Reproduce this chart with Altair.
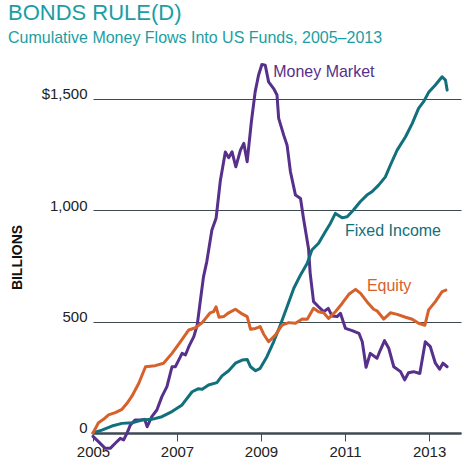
import altair as alt
import pandas as pd

# ---------------- data ----------------
eq_year = [2005.0, 2005.13, 2005.25, 2005.37, 2005.53, 2005.69, 2005.81, 2005.93, 2006.09, 2006.25,
           2006.48, 2006.68, 2006.88, 2007.08, 2007.28, 2007.44, 2007.6, 2007.79, 2007.87, 2007.93,
           2008.0, 2008.11, 2008.23, 2008.39, 2008.55, 2008.67, 2008.75, 2008.87, 2008.98, 2009.06,
           2009.18, 2009.34, 2009.5, 2009.66, 2009.82, 2009.98, 2010.1, 2010.25, 2010.37, 2010.49,
           2010.61, 2010.77, 2010.93, 2011.09, 2011.25, 2011.37, 2011.52, 2011.68, 2011.76, 2011.92,
           2012.08, 2012.24, 2012.44, 2012.6, 2012.75, 2012.9, 2012.99, 2013.15, 2013.31, 2013.4]
eq_val = [0, 46, 61, 81, 91, 106, 133, 166, 223, 297,
          302, 313, 357, 409, 462, 472, 495, 539, 544, 566,
          519, 522, 539, 555, 534, 522, 465, 469, 477, 444,
          409, 439, 484, 495, 492, 511, 510, 559, 544, 539,
          514, 544, 581, 622, 644, 626, 589, 555, 548, 511,
          539, 532, 519, 510, 492, 483, 552, 589, 634, 641]

fi_year = [2005.0, 2005.21, 2005.45, 2005.69, 2005.93, 2006.17, 2006.4, 2006.64, 2006.88, 2007.12,
           2007.36, 2007.5, 2007.6, 2007.75, 2007.95, 2008.07, 2008.23, 2008.39, 2008.55, 2008.67,
           2008.75, 2008.87, 2008.98, 2009.14, 2009.3, 2009.46, 2009.62, 2009.78, 2009.94, 2010.1,
           2010.21, 2010.37, 2010.53, 2010.65, 2010.77, 2010.93, 2011.05, 2011.2, 2011.36, 2011.52,
           2011.64, 2011.8, 2011.96, 2012.08, 2012.24, 2012.44, 2012.6, 2012.75, 2012.87, 2012.99,
           2013.15, 2013.31, 2013.39, 2013.43]
fi_val = [0, 13, 31, 43, 46, 58, 61, 73, 96, 126,
          185, 198, 196, 215, 226, 256, 279, 313, 327, 330,
          297, 279, 290, 342, 409, 484, 566, 649, 709, 761,
          821, 851, 903, 940, 985, 965, 970, 1000, 1037, 1067,
          1082, 1112, 1149, 1202, 1269, 1329, 1389, 1456, 1486, 1528,
          1561, 1598, 1583, 1538]

mm_year = [2005.0, 2005.13, 2005.29, 2005.41, 2005.53, 2005.65, 2005.73, 2005.81, 2005.89, 2006.0,
           2006.13, 2006.23, 2006.29, 2006.4, 2006.52, 2006.64, 2006.76, 2006.88, 2006.96, 2007.04,
           2007.12, 2007.2, 2007.28, 2007.4, 2007.48, 2007.56, 2007.63, 2007.71, 2007.83, 2007.93,
           2008.03, 2008.15, 2008.23, 2008.31, 2008.4, 2008.51, 2008.59, 2008.67, 2008.77, 2008.86,
           2008.94, 2009.02, 2009.1, 2009.18, 2009.3, 2009.38, 2009.42, 2009.54, 2009.62, 2009.7,
           2009.82, 2009.94, 2010.01, 2010.13, 2010.17, 2010.25, 2010.37, 2010.49, 2010.6, 2010.69,
           2010.81, 2010.89, 2011.01, 2011.17, 2011.33, 2011.41, 2011.5, 2011.6, 2011.76, 2011.84,
           2011.94, 2012.04, 2012.16, 2012.32, 2012.42, 2012.51, 2012.63, 2012.78, 2012.91, 2013.03,
           2013.15, 2013.25, 2013.33, 2013.43]
mm_val = [-15, -39, -69, -69, -46, -24, -31, -1, 36, 58,
          58, 61, 28, 73, 103, 163, 208, 297, 297, 327,
          357, 350, 387, 432, 484, 600, 700, 770, 910, 963,
          1130, 1260, 1235, 1261, 1194, 1269, 1299, 1217, 1396, 1530,
          1605, 1653, 1650, 1575, 1545, 1516, 1411, 1336, 1291, 1172,
          1067, 1052, 963, 828, 716, 589, 566, 544, 559, 525,
          522, 537, 469, 459, 447, 409, 295, 357, 335, 372,
          414, 380, 297, 275, 238, 270, 275, 267, 409, 387,
          313, 286, 313, 297]

series_names = ["Money Market", "Fixed Income", "Equity"]
line_colors = ["#56308a", "#11707c", "#d6612a"]

label_year = [2009.29, 2011.0, 2011.52]
label_val = [1618, 905, 658]

x_ticks = [2005, 2007, 2009, 2011, 2013]
y_ticks = [0, 500, 1000, 1500]

# ---------------- tables ----------------
rows = []
for name, yrs, vals in [("Money Market", mm_year, mm_val),
                        ("Fixed Income", fi_year, fi_val),
                        ("Equity", eq_year, eq_val)]:
    for a, b in zip(yrs, vals):
        rows.append({"year": a, "value": b, "series": name})
df = pd.DataFrame(rows)
labels = pd.DataFrame({"year": label_year, "value": label_val, "series": series_names})

# ---------------- chart ----------------
axis_col = "#3d4a52"
x_scale = alt.Scale(domain=[2005, 2013.76], nice=False, zero=False)
y_scale = alt.Scale(domain=[-80, 1700], nice=False, zero=False)
color = alt.Color("series:N", scale=alt.Scale(domain=series_names, range=line_colors), legend=None)

x_axis = alt.Axis(values=x_ticks, format="d", title=None, offset=-17.8,
                  domainColor=axis_col, domainWidth=2.5, tickColor=axis_col,
                  tickWidth=1, tickSize=8, labelFontSize=15, labelPadding=4,
                  labelFlush=False, labelOverlap=False,
                  labelColor="#222", labelFont="Liberation Sans", grid=False)
y_axis = alt.Axis(values=y_ticks, title="BILLIONS", grid=True, gridColor=axis_col,
                  gridWidth=1.2, domain=False, ticks=False, labelPadding=6,
                  labelFontSize=15, labelColor="#222", labelFont="Liberation Sans",
                  labelBaseline="alphabetic",
                  labelExpr="datum.value == 1500 ? '$1,500' : format(datum.value, ',')",
                  titleFont="Liberation Sans", titleFontSize=14, titleFontWeight="bold",
                  titleColor="#111", titleAngle=270, titleX=-75.7, titleY=203,
                  titleAlign="center", titleBaseline="middle")

lines = alt.Chart(df).mark_line(strokeWidth=3, strokeJoin="round", strokeCap="round").encode(
    x=alt.X("year:Q", scale=x_scale, axis=x_axis),
    y=alt.Y("value:Q", scale=y_scale, axis=y_axis),
    color=color,
    order=alt.Order("year:Q"),
)

texts = alt.Chart(labels).mark_text(align="left", baseline="middle", fontSize=16,
                                    font="Liberation Sans").encode(
    x=alt.X("year:Q", scale=x_scale, axis=x_axis),
    y=alt.Y("value:Q", scale=y_scale, axis=y_axis),
    text="series:N",
    color=color,
)

chart = (lines + texts).properties(
    width=368,
    height=396.8,
    background="white",
    padding={"left": 93, "top": 54, "right": 6, "bottom": 12},
    autosize=alt.AutoSizeParams(type="none"),
    title=alt.TitleParams(
        text="BONDS RULE(D)",
        subtitle="Cumulative Money Flows Into US Funds, 2005\u20132013",
        anchor="start", frame="group", dx=-85, offset=7,
        font="Liberation Sans", fontSize=22, fontWeight="normal", color="#1b9ea3",
        subtitleFont="Liberation Sans", subtitleFontSize=16, subtitleColor="#1b9ea3",
        subtitlePadding=5,
    ),
).configure_view(strokeWidth=0)

chart.save("out.html", embed_options={"renderer": "svg", "actions": False})
